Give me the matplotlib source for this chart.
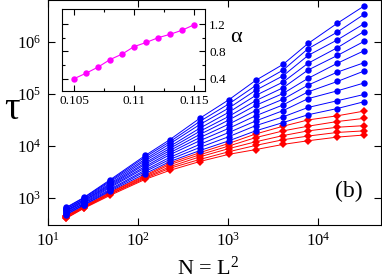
import numpy as np
import matplotlib
matplotlib.use("Agg")
import matplotlib.pyplot as plt
from matplotlib.ticker import FixedLocator, NullLocator, LogLocator

plt.rcParams['font.family'] = ['Liberation Serif', 'DejaVu Serif']
plt.rcParams['mathtext.fontset'] = 'custom'
plt.rcParams['mathtext.rm'] = 'Liberation Serif'
plt.rcParams['mathtext.it'] = 'Liberation Serif:italic'
plt.rcParams['mathtext.default'] = 'regular'

# system sizes N = L^2 (one column of points each)
N = [16, 25, 49, 121, 225, 484, 1024, 2025, 4096, 7744, 16384, 32400]

blue_log_tau = [
    [2.82, 2.81, 2.79, 2.78, 2.76, 2.75, 2.74, 2.72, 2.71, 2.69, 2.68],
    [3.01, 3.00, 2.98, 2.97, 2.95, 2.94, 2.92, 2.90, 2.89, 2.87, 2.86],
    [3.35, 3.33, 3.31, 3.28, 3.26, 3.24, 3.22, 3.20, 3.17, 3.15, 3.13],
    [3.82, 3.79, 3.75, 3.72, 3.68, 3.65, 3.61, 3.58, 3.54, 3.51, 3.47],
    [4.12, 4.08, 4.04, 3.99, 3.95, 3.91, 3.87, 3.83, 3.78, 3.74, 3.70],
    [4.53, 4.47, 4.41, 4.34, 4.28, 4.22, 4.16, 4.10, 4.03, 3.97, 3.91],
    [4.89, 4.81, 4.73, 4.65, 4.57, 4.50, 4.42, 4.34, 4.26, 4.18, 4.10],
    [5.26, 5.16, 5.07, 4.97, 4.87, 4.78, 4.68, 4.58, 4.48, 4.39, 4.29],
    [5.57, 5.46, 5.35, 5.23, 5.12, 5.01, 4.90, 4.79, 4.68, 4.56, 4.45],
    [5.97, 5.87, 5.74, 5.59, 5.46, 5.30, 5.17, 5.04, 4.91, 4.74, 4.60],
    [6.36, 6.19, 6.04, 5.89, 5.74, 5.59, 5.42, 5.24, 5.06, 4.87, 4.72],
    [6.69, 6.53, 6.35, 6.20, 6.01, 5.83, 5.60, 5.44, 5.21, 4.99, 4.85],
]
red_log_tau = [
    [2.66, 2.65, 2.64, 2.62, 2.61],
    [2.84, 2.83, 2.82, 2.81, 2.80],
    [3.11, 3.10, 3.08, 3.07, 3.05],
    [3.44, 3.42, 3.40, 3.38, 3.36],
    [3.67, 3.64, 3.60, 3.57, 3.53],
    [3.87, 3.83, 3.79, 3.74, 3.70],
    [4.05, 4.00, 3.95, 3.89, 3.84],
    [4.23, 4.16, 4.08, 4.01, 3.93],
    [4.38, 4.29, 4.20, 4.12, 4.03],
    [4.50, 4.38, 4.29, 4.19, 4.10],
    [4.58, 4.47, 4.36, 4.26, 4.17],
    [4.67, 4.53, 4.39, 4.29, 4.21],
]

# inset: exponent alpha vs p
p_inset = [0.105, 0.106, 0.107, 0.108, 0.109, 0.110, 0.111, 0.112, 0.113, 0.114, 0.115]
alpha_inset = [0.40, 0.48, 0.57, 0.68, 0.76, 0.87, 0.93, 1.00, 1.05, 1.11, 1.19]

fig = plt.figure(figsize=(3.82, 2.80), dpi=100)
ax = fig.add_axes([48 / 382, 1 - 225 / 280, 333 / 382, 225 / 280])

for row in np.array(red_log_tau).T:
    ax.plot(N, 10 ** row, '-D', color='#ff0000', lw=0.7, ms=3.6, mew=0)
for row in np.array(blue_log_tau).T:
    ax.plot(N, 10 ** row, '-o', color='#0000ff', lw=0.7, ms=4.6, mew=0)

ax.set_xscale('log')
ax.set_yscale('log')
ax.set_xlim(10, 5.0e4)
ax.set_ylim(302, 6.4e6)
ax.xaxis.set_major_locator(LogLocator(base=10, numticks=10))
ax.yaxis.set_major_locator(LogLocator(base=10, numticks=10))
ax.xaxis.set_minor_locator(NullLocator())
ax.yaxis.set_minor_locator(NullLocator())
ax.tick_params(which='both', direction='in', top=True, right=True,
               length=5, width=0.8, labelsize=12, pad=5)
for s in ax.spines.values():
    s.set_linewidth(0.8)

fig.text(12 / 382, 1 - 110 / 280, 'τ', fontsize=28, ha='center', va='center')
fig.text(208 / 382, 1 - 268 / 280, 'N = L$^{2}$', fontsize=16, ha='center', va='center')
ax.text(0.904, 0.147, '(b)', transform=ax.transAxes, fontsize=17,
        ha='center', va='center')

# inset
ins = fig.add_axes([62 / 382, 1 - 91 / 280, 143 / 382, 82 / 280])
ins.plot(p_inset, alpha_inset, '-o', color='#ff00ff', lw=0.8, ms=4.6, mew=0)
ins.set_xlim(0.104, 0.1159)
ins.set_ylim(0.22, 1.42)
ins.xaxis.set_major_locator(FixedLocator([0.105, 0.11, 0.115]))
ins.xaxis.set_minor_locator(FixedLocator([0.1075, 0.1125]))
ins.set_xticklabels(['0.105', '0.11', '0.115'])
ins.yaxis.set_major_locator(FixedLocator([0.4, 0.8, 1.2]))
ins.yaxis.set_minor_locator(FixedLocator([0.6, 1.0]))
ins.set_yticklabels(['0.4', '0.8', '1.2'])
ins.tick_params(which='both', direction='in', top=True, left=True, right=True,
                labelleft=False, labelright=True, labelsize=9.5, pad=3)
ins.tick_params(which='major', length=4, width=0.8)
ins.tick_params(which='minor', length=2.5, width=0.8)
for s in ins.spines.values():
    s.set_linewidth(0.8)
fig.text(236 / 382, 1 - 37 / 280, 'α', fontsize=16, ha='center', va='center')

fig.savefig('out.png', dpi=100)
